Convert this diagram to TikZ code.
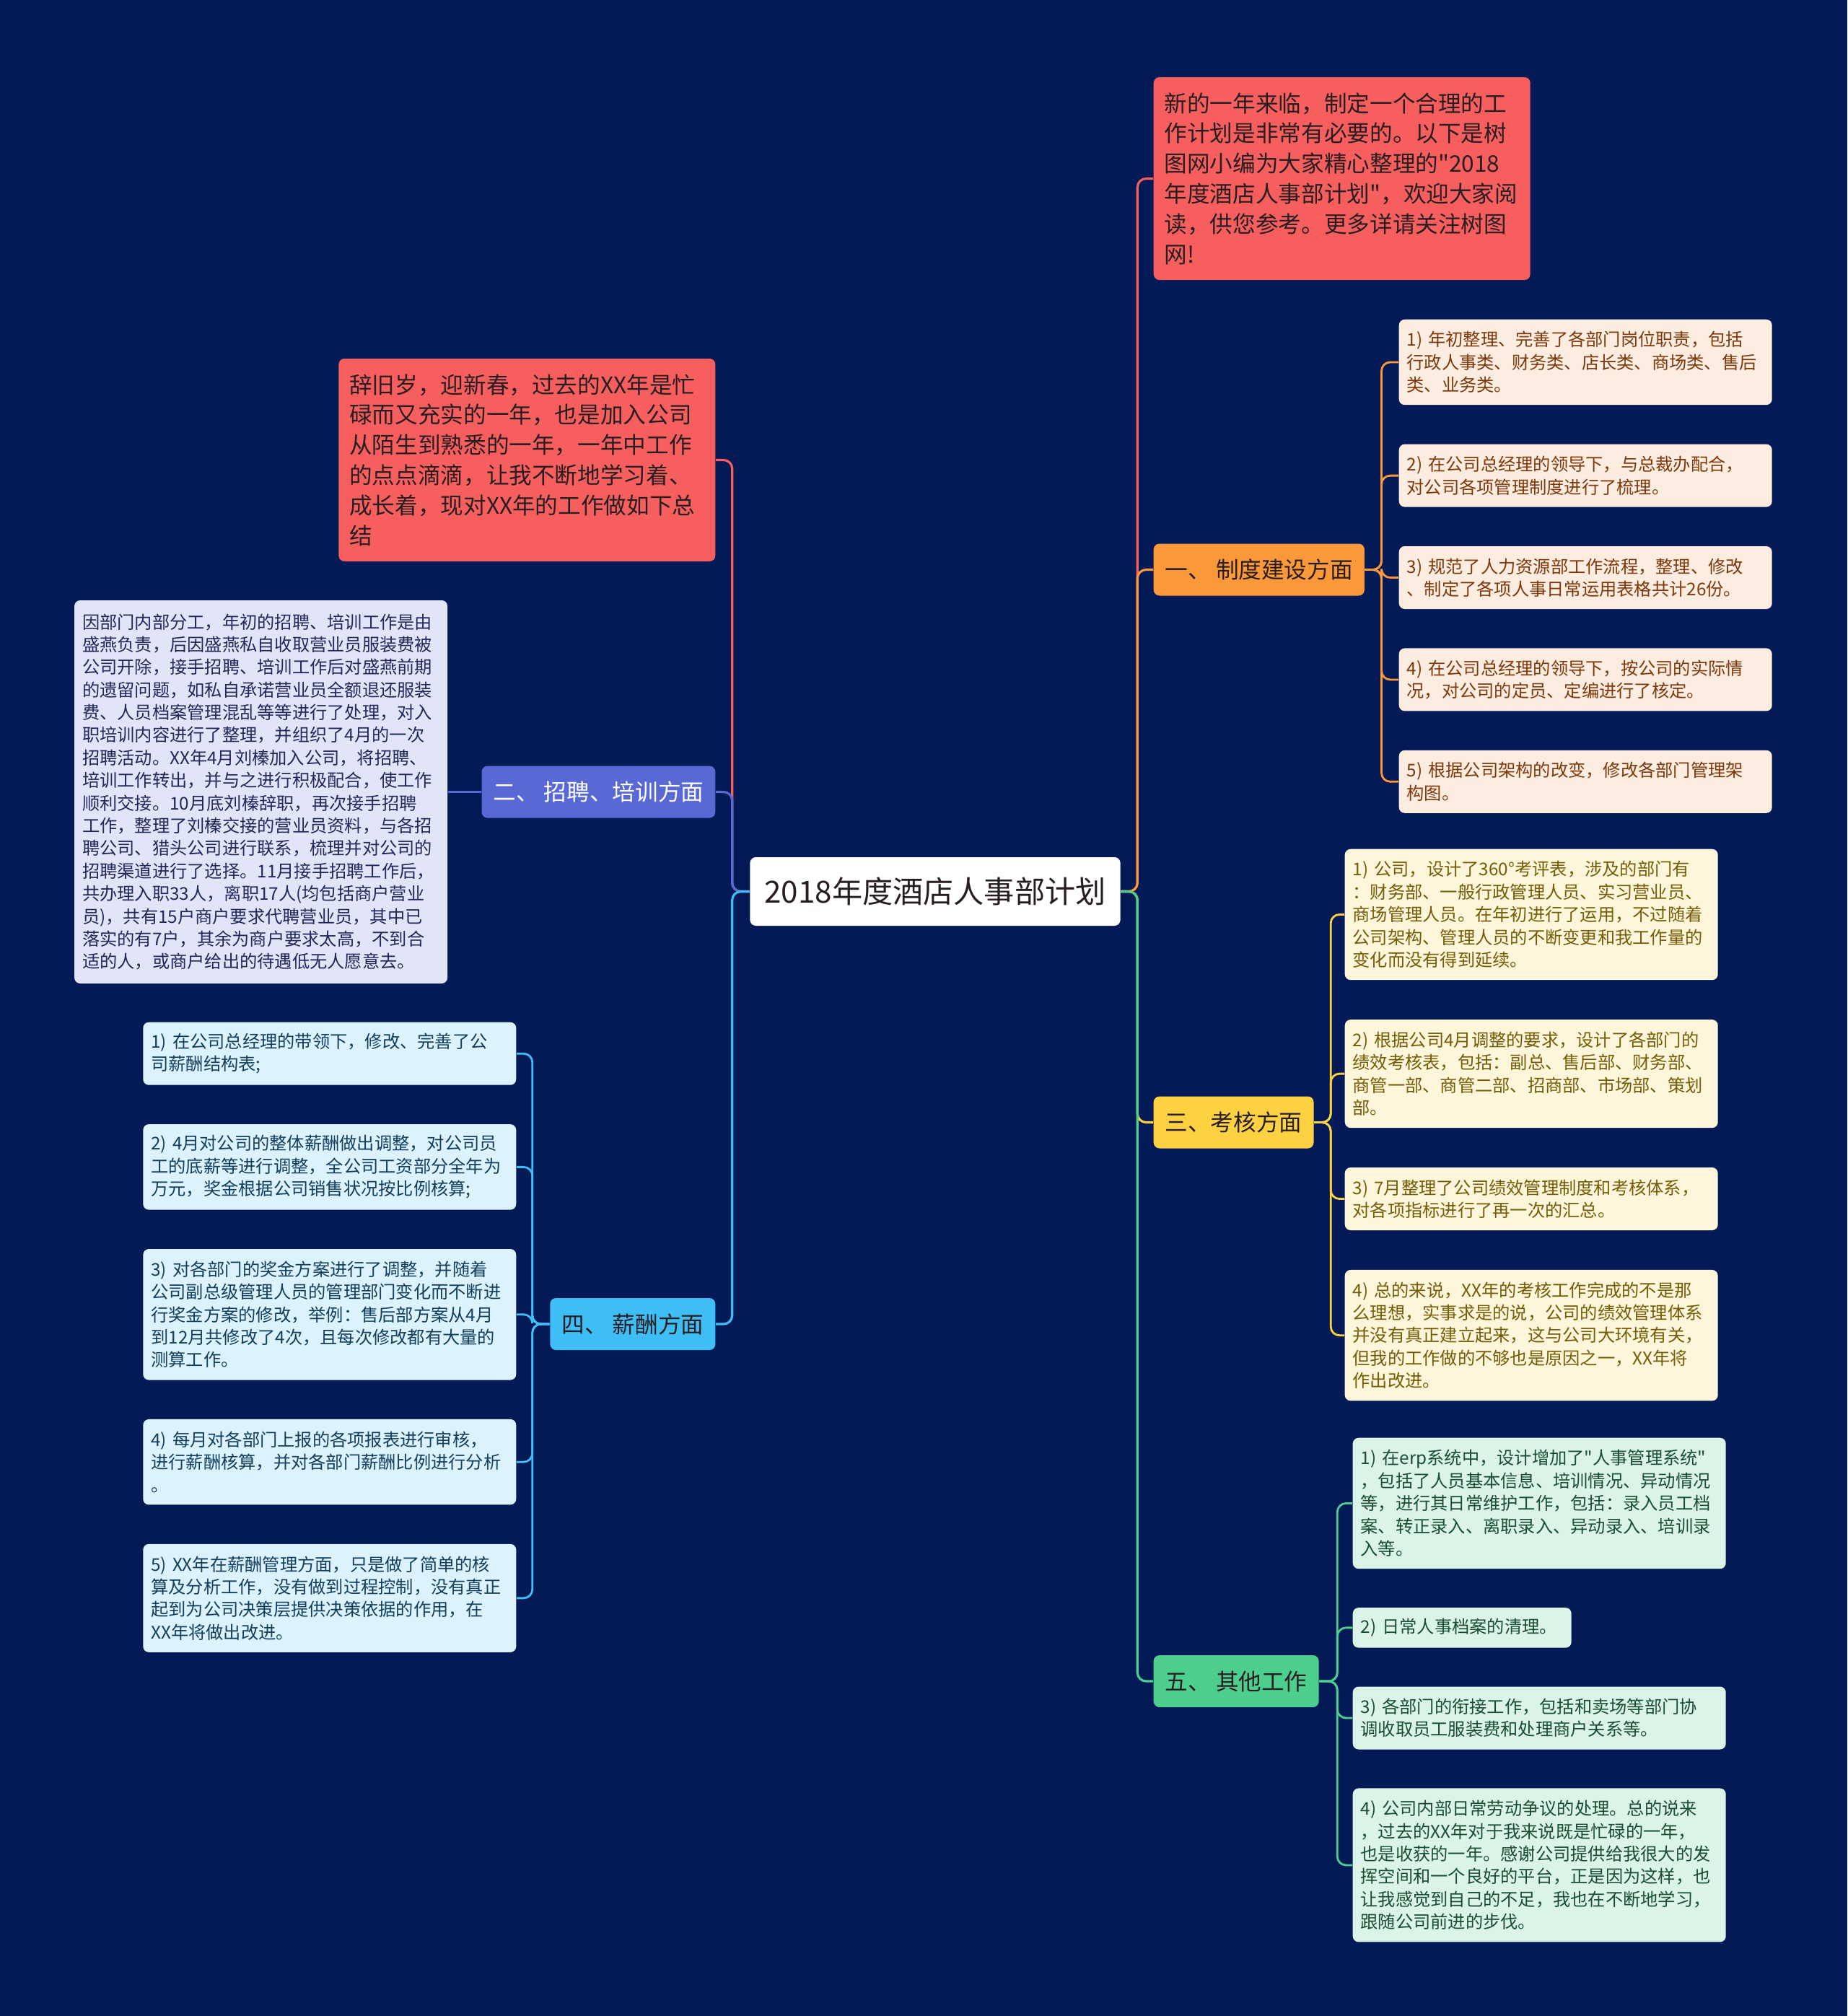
\documentclass[tikz,border=0pt]{standalone}
\usepackage{fontspec}
\setmainfont{Noto Sans CJK SC}[Ligatures=TeXOff]
\usepackage{tikz}
\usetikzlibrary{positioning}
\usepackage{xcolor}
\hyphenpenalty=10000
\exhyphenpenalty=10000
\definecolor{bgnavy}{RGB}{3,26,86}
\definecolor{introred}{RGB}{247,94,94}
\definecolor{branchorange}{RGB}{250,152,58}
\definecolor{branchindigo}{RGB}{88,104,212}
\definecolor{branchyellow}{RGB}{252,210,66}
\definecolor{branchblue}{RGB}{62,190,245}
\definecolor{branchgreen}{RGB}{76,206,142}
\definecolor{orangeleaf}{RGB}{253,236,224}
\definecolor{orangetext}{RGB}{125,56,12}
\definecolor{indigoleaf}{RGB}{226,229,247}
\definecolor{indigotext}{RGB}{32,40,92}
\definecolor{yellowleaf}{RGB}{254,246,218}
\definecolor{yellowtext}{RGB}{116,92,8}
\definecolor{blueleaf}{RGB}{220,242,252}
\definecolor{bluetext}{RGB}{18,62,96}
\definecolor{greenleaf}{RGB}{220,243,231}
\definecolor{greentext}{RGB}{24,78,50}
\definecolor{darktext}{RGB}{40,30,34}

\begin{document}
\begin{tikzpicture}[
    rootnode/.style={rectangle, rounded corners=0.08cm, fill=white, text=darktext, font=\fontsize{12pt}{14pt}\selectfont, inner xsep=0.2cm, minimum height=0.95cm},
    branch/.style={rectangle, rounded corners=0.08cm, text=darktext, font=\fontsize{9pt}{11pt}\selectfont, inner xsep=0.16cm, minimum height=0.72cm},
    note/.style={rectangle, rounded corners=0.08cm, fill=introred, text=darktext, font=\fontsize{9pt}{11.9pt}\selectfont, text width=4.92cm, align=left, inner xsep=0.15cm, minimum height=2.81cm},
    leaf/.style={rectangle, rounded corners=0.08cm, font=\fontsize{6.9pt}{8.93pt}\selectfont, text width=4.95cm, align=left, inner xsep=0.11cm, inner ysep=0.1cm},
    zdleaf/.style={leaf, fill=orangeleaf, text=orangetext},
    zpleaf/.style={leaf, fill=indigoleaf, text=indigotext},
    khleaf/.style={leaf, fill=yellowleaf, text=yellowtext},
    xcleaf/.style={leaf, fill=blueleaf, text=bluetext},
    qtleaf/.style={leaf, fill=greenleaf, text=greentext},
    link/.style={line width=0.9pt, rounded corners=0.12cm},
    leaflink/.style={line width=0.8pt, rounded corners=0.12cm}
]

    % Background
    \useasboundingbox (0,0) rectangle (25.6,-27.94);
    \fill[bgnavy] (0,0) rectangle (25.6,-27.94);

    % Central topic
    \node[rootnode] (root) at (12.96,-12.355) {2018年度酒店人事部计划};

    % Right branches
    \node[note, anchor=west] (intro) at (15.98,-2.475) {新的一年来临，制定一个合理的工\\作计划是非常有必要的。以下是树\\图网小编为大家精心整理的"2018\\年度酒店人事部计划"，欢迎大家阅\\读，供您参考。更多详请关注树图\\网!};
    \node[branch, fill=branchorange, anchor=west] (zhidu) at (15.98,-7.895) {一、 制度建设方面};
    \node[branch, fill=branchyellow, anchor=west] (kaohe) at (15.98,-15.555) {三、考核方面};
    \node[branch, fill=branchgreen, anchor=west] (qita) at (15.98,-23.30) {五、 其他工作};

    % Left branches
    \node[note, anchor=east] (summary) at (9.92,-6.375) {辞旧岁，迎新春，过去的XX年是忙\\碌而又充实的一年，也是加入公司\\从陌生到熟悉的一年，一年中工作\\的点点滴滴，让我不断地学习着、\\成长着，现对XX年的工作做如下总\\结};
    \node[branch, fill=branchindigo, text=white, anchor=east] (zhaopin) at (9.92,-10.975) {二、 招聘、培训方面};
    \node[branch, fill=branchblue, anchor=east] (xinchou) at (9.92,-18.35) {四、 薪酬方面};

    % 制度建设
    \node[zdleaf, anchor=north west, minimum height=1.185cm] (zd1) at (19.38,-4.42) {1) 年初整理、完善了各部门岗位职责，包括\\行政人事类、财务类、店长类、商场类、售后\\类、业务类。};
    \node[zdleaf, below=0.53cm of zd1, minimum height=0.87cm] (zd2) {2) 在公司总经理的领导下，与总裁办配合，\\对公司各项管理制度进行了梳理。};
    \node[zdleaf, below=0.53cm of zd2, minimum height=0.87cm] (zd3) {3) 规范了人力资源部工作流程，整理、修改\\、制定了各项人事日常运用表格共计26份。};
    \node[zdleaf, below=0.53cm of zd3, minimum height=0.87cm] (zd4) {4) 在公司总经理的领导下，按公司的实际情\\况，对公司的定员、定编进行了核定。};
    \node[zdleaf, below=0.53cm of zd4, minimum height=0.87cm] (zd5) {5) 根据公司架构的改变，修改各部门管理架\\构图。};

    % 招聘、培训
    \node[zpleaf, left=0.46cm of zhaopin, minimum height=5.31cm] (zp1) {因部门内部分工，年初的招聘、培训工作是由\\盛燕负责，后因盛燕私自收取营业员服装费被\\公司开除，接手招聘、培训工作后对盛燕前期\\的遗留问题，如私自承诺营业员全额退还服装\\费、人员档案管理混乱等等进行了处理，对入\\职培训内容进行了整理，并组织了4月的一次\\招聘活动。XX年4月刘榛加入公司，将招聘、\\培训工作转出，并与之进行积极配合，使工作\\顺利交接。10月底刘榛辞职，再次接手招聘\\工作，整理了刘榛交接的营业员资料，与各招\\聘公司、猎头公司进行联系，梳理并对公司的\\招聘渠道进行了选择。11月接手招聘工作后，\\共办理入职33人，离职17人(均包括商户营业\\员)，共有15户商户要求代聘营业员，其中已\\落实的有7户，其余为商户要求太高，不到合\\适的人，或商户给出的待遇低无人愿意去。};

    % 考核
    \node[khleaf, anchor=north west, minimum height=1.815cm] (kh1) at (18.63,-11.76) {1) 公司，设计了360°考评表，涉及的部门有\\：财务部、一般行政管理人员、实习营业员、\\商场管理人员。在年初进行了运用，不过随着\\公司架构、管理人员的不断变更和我工作量的\\变化而没有得到延续。};
    \node[khleaf, below=0.535cm of kh1, minimum height=1.5cm] (kh2) {2) 根据公司4月调整的要求，设计了各部门的\\绩效考核表，包括：副总、售后部、财务部、\\商管一部、商管二部、招商部、市场部、策划\\部。};
    \node[khleaf, below=0.535cm of kh2, minimum height=0.87cm] (kh3) {3) 7月整理了公司绩效管理制度和考核体系，\\对各项指标进行了再一次的汇总。};
    \node[khleaf, below=0.535cm of kh3, minimum height=1.815cm] (kh4) {4) 总的来说，XX年的考核工作完成的不是那\\么理想，实事求是的说，公司的绩效管理体系\\并没有真正建立起来，这与公司大环境有关，\\但我的工作做的不够也是原因之一，XX年将\\作出改进。};

    % 薪酬
    \node[xcleaf, anchor=north east, minimum height=0.87cm] (xc1) at (7.16,-14.16) {1) 在公司总经理的带领下，修改、完善了公\\司薪酬结构表;};
    \node[xcleaf, below=0.53cm of xc1, minimum height=1.185cm] (xc2) {2) 4月对公司的整体薪酬做出调整，对公司员\\工的底薪等进行调整，全公司工资部分全年为\\万元，奖金根据公司销售状况按比例核算;};
    \node[xcleaf, below=0.53cm of xc2, minimum height=1.815cm] (xc3) {3) 对各部门的奖金方案进行了调整，并随着\\公司副总级管理人员的管理部门变化而不断进\\行奖金方案的修改，举例：售后部方案从4月\\到12月共修改了4次，且每次修改都有大量的\\测算工作。};
    \node[xcleaf, below=0.53cm of xc3, minimum height=1.185cm] (xc4) {4) 每月对各部门上报的各项报表进行审核，\\进行薪酬核算，并对各部门薪酬比例进行分析\\。};
    \node[xcleaf, below=0.53cm of xc4, minimum height=1.5cm] (xc5) {5) XX年在薪酬管理方面，只是做了简单的核\\算及分析工作，没有做到过程控制，没有真正\\起到为公司决策层提供决策依据的作用，在\\XX年将做出改进。};

    % 其他工作
    \node[qtleaf, anchor=north west, minimum height=1.815cm] (qt1) at (18.74,-19.92) {1) 在erp系统中，设计增加了"人事管理系统"\\，包括了人员基本信息、培训情况、异动情况\\等，进行其日常维护工作，包括：录入员工档\\案、转正录入、离职录入、异动录入、培训录\\入等。};
    \node[qtleaf, text width=2.81cm, minimum height=0.555cm, below=0.525cm of qt1.south west, anchor=north west] (qt2) {2) 日常人事档案的清理。};
    \node[qtleaf, minimum height=0.87cm, below=0.525cm of qt2.south west, anchor=north west] (qt3) {3) 各部门的衔接工作，包括和卖场等部门协\\调收取员工服装费和处理商户关系等。};
    \node[qtleaf, minimum height=2.13cm, below=0.525cm of qt3.south west, anchor=north west] (qt4) {4) 公司内部日常劳动争议的处理。总的说来\\，过去的XX年对于我来说既是忙碌的一年，\\也是收获的一年。感谢公司提供给我很大的发\\挥空间和一个良好的平台，正是因为这样，也\\让我感觉到自己的不足，我也在不断地学习，\\跟随公司前进的步伐。};

    % Connectors from the central topic
    \draw[link, introred] (root.east) -- ++(0.23,0) |- (intro.west);
    \draw[link, branchorange] (root.east) -- ++(0.23,0) |- (zhidu.west);
    \draw[link, branchyellow] (root.east) -- ++(0.23,0) |- (kaohe.west);
    \draw[link, branchgreen] (root.east) -- ++(0.23,0) |- (qita.west);
    \draw[link, introred] (root.west) -- ++(-0.24,0) |- (summary.east);
    \draw[link, branchindigo] (root.west) -- ++(-0.24,0) |- (zhaopin.east);
    \draw[link, branchblue] (root.west) -- ++(-0.24,0) |- (xinchou.east);

    % Connectors to the details
    \draw[leaflink, branchorange] (zhidu.east) -- ++(0.23,0) |- (zd1.west);
    \draw[leaflink, branchorange] (zhidu.east) -- ++(0.23,0) |- (zd2.west);
    \draw[leaflink, branchorange] (zhidu.east) -- ++(0.23,0) |- (zd3.west);
    \draw[leaflink, branchorange] (zhidu.east) -- ++(0.23,0) |- (zd4.west);
    \draw[leaflink, branchorange] (zhidu.east) -- ++(0.23,0) |- (zd5.west);
    \draw[leaflink, branchindigo] (zhaopin.west) -- (zp1.east);
    \draw[leaflink, branchyellow] (kaohe.east) -- ++(0.23,0) |- (kh1.west);
    \draw[leaflink, branchyellow] (kaohe.east) -- ++(0.23,0) |- (kh2.west);
    \draw[leaflink, branchyellow] (kaohe.east) -- ++(0.23,0) |- (kh3.west);
    \draw[leaflink, branchyellow] (kaohe.east) -- ++(0.23,0) |- (kh4.west);
    \draw[leaflink, branchblue] (xinchou.west) -- ++(-0.24,0) |- (xc1.east);
    \draw[leaflink, branchblue] (xinchou.west) -- ++(-0.24,0) |- (xc2.east);
    \draw[leaflink, branchblue] (xinchou.west) -- ++(-0.24,0) |- (xc3.east);
    \draw[leaflink, branchblue] (xinchou.west) -- ++(-0.24,0) |- (xc4.east);
    \draw[leaflink, branchblue] (xinchou.west) -- ++(-0.24,0) |- (xc5.east);
    \draw[leaflink, branchgreen] (qita.east) -- ++(0.25,0) |- (qt1.west);
    \draw[leaflink, branchgreen] (qita.east) -- ++(0.25,0) |- (qt2.west);
    \draw[leaflink, branchgreen] (qita.east) -- ++(0.25,0) |- (qt3.west);
    \draw[leaflink, branchgreen] (qita.east) -- ++(0.25,0) |- (qt4.west);

\end{tikzpicture}
\end{document}
